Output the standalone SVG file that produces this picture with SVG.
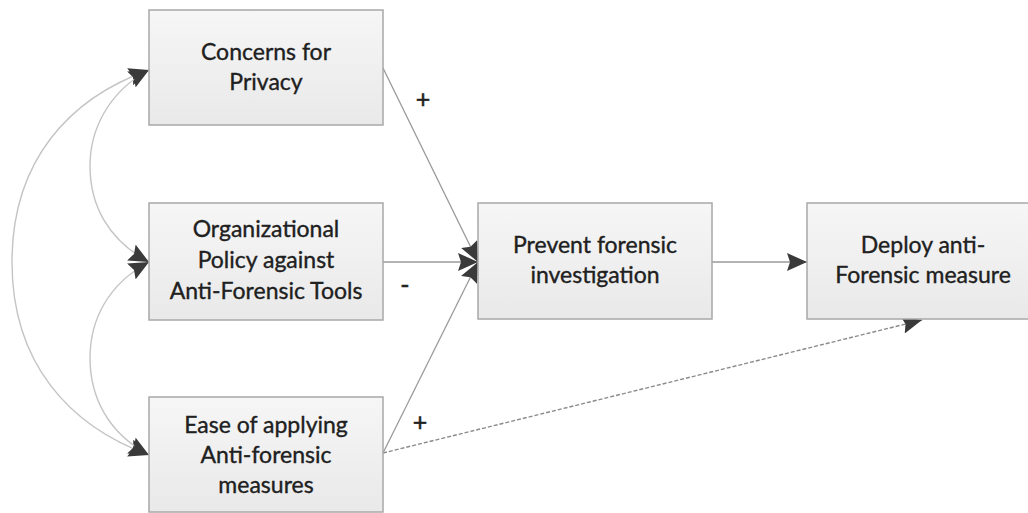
<svg xmlns="http://www.w3.org/2000/svg" width="1028" height="513" viewBox="0 0 1028 513">
<defs>
<linearGradient id="bg" x1="0" y1="0" x2="0" y2="1">
<stop offset="0" stop-color="#f6f6f6"/>
<stop offset="1" stop-color="#e9e9e9"/>
</linearGradient>
<marker id="ah" markerUnits="userSpaceOnUse" viewBox="0 0 20 18" markerWidth="20" markerHeight="18" refX="20" refY="9" orient="auto-start-reverse">
<path d="M0,0 L20,9 L0,18 L3,9 z" fill="#3a3a3a"/>
</marker>
<style>
.box{fill:url(#bg);stroke:#a8a8a8;stroke-width:1.5}
.t{font-family:Lato,"Open Sans",sans-serif;font-size:23px;fill:#202020;stroke:#202020;stroke-width:0.35;text-anchor:middle}
.c{fill:none;stroke:#c4c4c4;stroke-width:1.4}
.s{fill:none;stroke:#9a9a9a;stroke-width:1.3}
.d{fill:none;stroke:#8a8a8a;stroke-width:1.4;stroke-dasharray:4 2}
.lbl{font-family:Lato,"Open Sans",sans-serif;font-size:25px;fill:#202020;stroke:#202020;stroke-width:0.5;text-anchor:middle}
</style>
</defs>
<rect width="1028" height="513" fill="#ffffff"/>
<g id="connectors">
<path class="c" d="M149,70 C70,98 12,160 12,262 C12,364 70,426 149,455" marker-start="url(#ah)" marker-end="url(#ah)"/>
<path class="c" d="M149,70 C108,92 90,130 90,166 C90,205 108,240 149,262" marker-start="url(#ah)" marker-end="url(#ah)"/>
<path class="c" d="M149,262 C108,284 90,320 90,358 C90,397 108,433 149,455" marker-start="url(#ah)" marker-end="url(#ah)"/>
<path class="s" d="M383,68 L478,262" marker-end="url(#ah)"/>
<path class="s" d="M383,262 L478,262" marker-end="url(#ah)"/>
<path class="s" d="M383,453 L478,262" marker-end="url(#ah)"/>
<path class="s" d="M712,262 L807,262" marker-end="url(#ah)"/>
<path class="d" d="M383,453 L922,320" marker-end="url(#ah)"/>
<text class="lbl" x="423" y="108">+</text>
<text class="lbl" x="405" y="294">-</text>
<text class="lbl" x="420" y="431">+</text>
</g>
<g id="concerns">
<rect class="box" x="149" y="10" width="234" height="115"/>
<text class="t" x="266" y="60">Concerns for</text>
<text class="t" x="266" y="90">Privacy</text>
</g>
<g id="policy">
<rect class="box" x="149" y="203" width="234" height="117"/>
<text class="t" x="266" y="237">Organizational</text>
<text class="t" x="266" y="268">Policy against</text>
<text class="t" x="266" y="299">Anti-Forensic Tools</text>
</g>
<g id="ease">
<rect class="box" x="149" y="397" width="234" height="115"/>
<text class="t" x="266" y="433">Ease of applying</text>
<text class="t" x="266" y="463">Anti-forensic</text>
<text class="t" x="266" y="493">measures</text>
</g>
<g id="prevent">
<rect class="box" x="478" y="203" width="234" height="116"/>
<text class="t" x="595" y="253">Prevent forensic</text>
<text class="t" x="595" y="283">investigation</text>
</g>
<g id="deploy">
<rect class="box" x="807" y="203" width="232" height="116"/>
<text class="t" x="923" y="253">Deploy anti-</text>
<text class="t" x="923" y="283">Forensic measure</text>
</g>
</svg>
